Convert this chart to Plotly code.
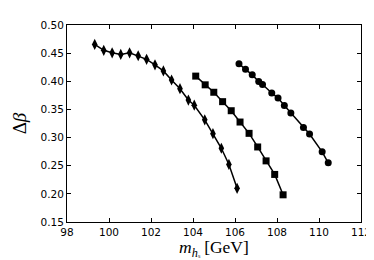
import plotly.graph_objects as go

x_diamond = [99.32, 99.75, 100.15, 100.56, 100.98, 101.39, 101.79, 102.19, 102.59,
             102.98, 103.38, 103.78, 104.06, 104.56, 104.95, 105.35, 105.71, 106.10]
y_diamond = [0.4655, 0.455, 0.4506, 0.4477, 0.4506, 0.4454, 0.439, 0.4293, 0.4184,
             0.4023, 0.3868, 0.3667, 0.3575, 0.3316, 0.3069, 0.281, 0.2523, 0.2098]

x_square = [104.13, 104.58, 104.99, 105.41, 105.82, 106.24, 106.67, 107.08, 107.48, 107.89, 108.29]
y_square = [0.4092, 0.3937, 0.3805, 0.3638, 0.3477, 0.3276, 0.3075, 0.2833, 0.2586, 0.2345, 0.1983]

x_circle = [106.19, 106.50, 106.82, 107.13, 107.31, 107.75, 108.05, 108.35, 108.66,
            109.26, 109.55, 110.15, 110.44]
y_circle = [0.431, 0.4213, 0.4115, 0.3994, 0.3943, 0.3793, 0.3701, 0.3569, 0.3437,
            0.3178, 0.3063, 0.2747, 0.2552]

x_ticks = [98, 100, 102, 104, 106, 108, 110, 112]
y_ticks = [0.15, 0.20, 0.25, 0.30, 0.35, 0.40, 0.45, 0.50]

fig = go.Figure()
series = [
    (x_diamond, y_diamond, "diamond-tall", 8),
    (x_square, y_square, "square", 7),
    (x_circle, y_circle, "circle", 7),
]
for xs, ys, sym, sz in series:
    fig.add_trace(go.Scatter(
        x=xs, y=ys, mode="lines+markers",
        line=dict(color="black", width=1.5),
        marker=dict(symbol=sym, size=sz, color="black"),
        showlegend=False,
    ))

axis_common = dict(
    showgrid=False, zeroline=False, showline=True, linecolor="black", linewidth=1,
    mirror="ticks", ticks="inside", ticklen=4, tickcolor="black",
    tickfont=dict(family="DejaVu Sans", size=10.5, color="black"),
)
fig.update_xaxes(range=[98, 112], tickvals=x_ticks, ticktext=[str(v) for v in x_ticks],
                 **axis_common)
fig.update_yaxes(range=[0.15, 0.50], tickvals=y_ticks, ticktext=[f"{v:.2f}" for v in y_ticks],
                 title=dict(text="Δ<i>β</i>",
                            font=dict(family="Liberation Serif", size=19, color="black"),
                            standoff=8),
                 **axis_common)
fig.add_annotation(
    text="<i>m</i><sub><i>h</i><span style='font-size:8px'>ₛ</span></sub> [GeV]",
    xref="paper", yref="paper", x=0.5, y=-0.065, xanchor="center", yanchor="top",
    showarrow=False, font=dict(family="Liberation Serif", size=17.5, color="black"),
)
fig.update_layout(
    width=374, height=260,
    margin=dict(l=54, r=16, t=11, b=46),
    plot_bgcolor="white", paper_bgcolor="white",
)
fig.write_html("out.html")
